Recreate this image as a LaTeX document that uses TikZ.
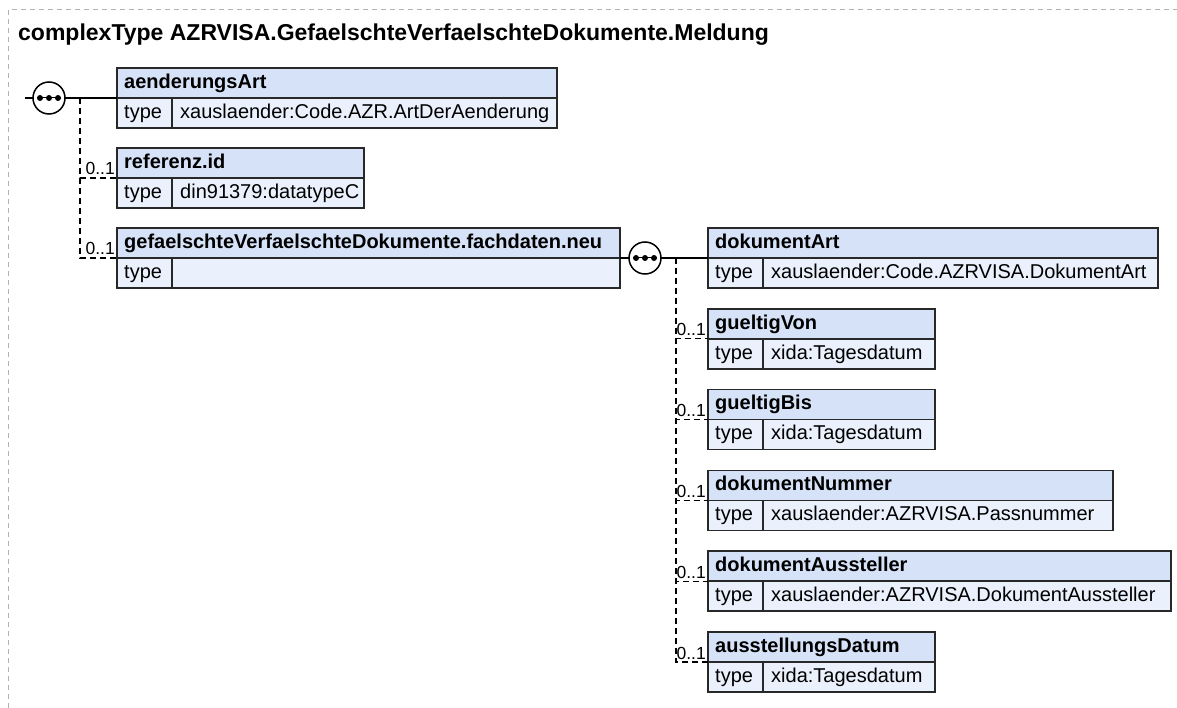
\documentclass[tikz,border=0pt]{standalone}
\usepackage{fontspec}
\setmainfont{Liberation Sans}
\usetikzlibrary{calc}

\definecolor{hdrblue}{RGB}{214,226,247}
\definecolor{typeblue}{RGB}{234,240,252}
\definecolor{boxline}{RGB}{40,40,40}

\tikzset{
  cell/.style={draw=boxline, line width=1.5pt, minimum height=30pt, inner sep=0pt, outer sep=0pt},
  hdrbox/.style={cell, fill=hdrblue},
  typebox/.style={cell, fill=typeblue},
  celltext/.style={inner sep=0pt, text height=14.5pt, text depth=4pt, font=\fontsize{20}{24}\selectfont},
  nametext/.style={celltext, font=\fontsize{20}{24}\selectfont\bfseries},
  seq/.style={circle, draw, fill=white, line width=1.5pt, minimum size=32pt, inner sep=0pt, outer sep=0pt,
    path picture={
      \draw[black, line width=1pt] ([xshift=-12pt]path picture bounding box.center) -- ([xshift=12pt]path picture bounding box.center);
      \foreach \dx in {-9,0,9} \fill[black] ([xshift=\dx pt]path picture bounding box.center) circle[radius=3pt];
    }},
  optline/.style={line width=1.3pt, dash pattern=on 6pt off 4pt},
  occ/.style={inner sep=0pt, font=\fontsize{17.5}{20}\selectfont, anchor=base east},
}

% element box: name, x, y, width, label, type
\newcommand{\xelem}[6]{%
  \node[hdrbox, minimum width=#4pt, anchor=north west] (#1) at (#2,#3) {};
  \node[nametext, anchor=west] (#1n) at ([xshift=7pt]#1.west) {#5};
  \node[typebox, minimum width=55pt, anchor=north west] (#1t) at (#1.south west) {};
  \node[celltext, anchor=west] (#1tn) at ([xshift=7pt]#1t.west) {type};
  \node[typebox, minimum width=#4pt-55pt, anchor=north west] (#1v) at (#1t.north east) {};
  \node[celltext, anchor=west] (#1vn) at ([xshift=8pt]#1v.west) {#6};
}

\begin{document}
\begin{tikzpicture}[x=1pt, y=-1pt]
  \useasboundingbox (0,0) rectangle (1177,708);
  \draw[gray!60, line width=1pt, dash pattern=on 5pt off 4pt] (8,708) -- (8,10) -- (1177,10);
  \node[font=\fontsize{23}{28}\selectfont\bfseries, anchor=base west, inner sep=0pt] (title) at (18,41)
    {complexType AZRVISA.GefaelschteVerfaelschteDokumente.Meldung};

  % Meldung
  \xelem{aend}{117}{68}{440}{aenderungsArt}{xauslaender:Code.AZR.ArtDerAenderung}
  \xelem{refid}{117}{148}{247}{referenz.id}{din91379:datatypeC}
  \xelem{fach}{117}{228}{503}{gefaelschteVerfaelschteDokumente.fachdaten.neu}{}
  \node[seq] (seqA) at (49,98) {};
  \coordinate (inA) at (25,98);
  \coordinate (forkA) at (80,98);
  \draw[line width=1.5pt] (inA) -- (seqA) -- (aend.south west);
  \foreach \b in {refid,fach} {
    \draw[optline] (forkA) |- (\b.south west);
    \node[occ] (occ\b) at ([xshift=-2pt,yshift=3pt]\b.south west) {0..1};
  }

  % fachdaten.neu
  \xelem{dokart}{708}{228}{450}{dokumentArt}{xauslaender:Code.AZRVISA.DokumentArt}
  \xelem{gvon}{708}{308.8}{227}{gueltigVon}{xida:Tagesdatum}
  \xelem{gbis}{708}{389.6}{227}{gueltigBis}{xida:Tagesdatum}
  \xelem{doknr}{708}{470.4}{405}{dokumentNummer}{xauslaender:AZRVISA.Passnummer}
  \xelem{dokaus}{708}{551.2}{463}{dokumentAussteller}{xauslaender:AZRVISA.DokumentAussteller}
  \xelem{ausdat}{708}{632}{227}{ausstellungsDatum}{xida:Tagesdatum}
  \node[seq] (seqB) at (645,258) {};
  \coordinate (forkB) at (676,258);
  \draw[line width=1.5pt] (fach.south east) -- (seqB) -- (dokart.south west);
  \foreach \b in {gvon,gbis,doknr,dokaus,ausdat} {
    \draw[optline] (forkB) |- (\b.south west);
    \node[occ] (occ\b) at ([xshift=-2pt,yshift=3pt]\b.south west) {0..1};
  }
\end{tikzpicture}
\end{document}
